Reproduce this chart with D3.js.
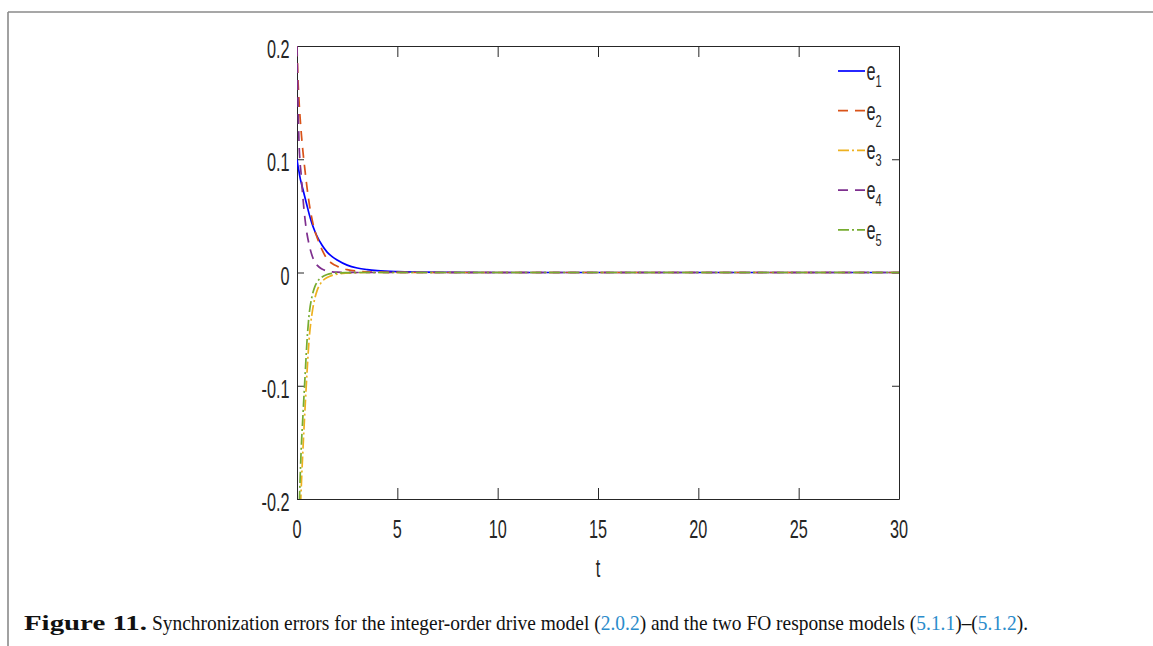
<!DOCTYPE html>
<html>
<head>
<meta charset="utf-8">
<script src="https://cdn.jsdelivr.net/npm/d3@7"></script>
<style>
  html, body { margin: 0; padding: 0; background: #ffffff; }
  svg { display: block; }
</style>
</head>
<body>
<svg id="fig" width="1153" height="646"></svg>
<script>
// Sampled time instants (dense near t = 0 where the errors change fastest)
const timePoints = [0, 0.05, 0.1, 0.15, 0.2, 0.3, 0.4, 0.5, 0.6, 0.75, 0.9, 1.0, 1.25, 1.5, 1.75, 2, 2.5, 3, 3.5, 4, 5, 6, 8, 10, 15, 20, 25, 30];

// Synchronization errors e1..e5 at the time instants above
const e1 = [0.100, 0.094, 0.089, 0.084, 0.080, 0.073, 0.066, 0.059, 0.052, 0.043, 0.036, 0.032, 0.024, 0.018, 0.014, 0.011, 0.0065, 0.004, 0.0026, 0.0017, 0.0008, 0.0004, 0.0001, 0, 0, 0, 0, 0];
const e2 = [0.200, 0.170, 0.152, 0.138, 0.126, 0.106, 0.090, 0.075, 0.062, 0.047, 0.036, 0.031, 0.020, 0.012, 0.008, 0.0055, 0.0025, 0.0012, 0.0006, 0.0003, 0.0001, 0, 0, 0, 0, 0, 0, 0];
const e3 = [-0.340, -0.290, -0.250, -0.220, -0.195, -0.155, -0.120, -0.088, -0.060, -0.036, -0.022, -0.016, -0.008, -0.0045, -0.0025, -0.0014, -0.0005, -0.0002, 0, 0, 0, 0, 0, 0, 0, 0, 0, 0];
const e4 = [0.200, 0.150, 0.115, 0.098, 0.088, 0.065, 0.047, 0.034, 0.025, 0.015, 0.009, 0.0065, 0.003, 0.0013, 0.0006, 0.0003, 0.0001, 0, 0, 0, 0, 0, 0, 0, 0, 0, 0, 0];
const e5 = [-0.320, -0.260, -0.215, -0.185, -0.160, -0.125, -0.092, -0.060, -0.038, -0.021, -0.012, -0.0085, -0.004, -0.0018, -0.0008, -0.0004, -0.0001, 0, 0, 0, 0, 0, 0, 0, 0, 0, 0, 0];

const seriesLabels = ["1", "2", "3", "4", "5"];

// Axis ticks
const xTicks = [0, 5, 10, 15, 20, 25, 30];
const xTickLabels = ["0", "5", "10", "15", "20", "25", "30"];
const yTicks = [-0.2, -0.1, 0, 0.1, 0.2];
const yTickLabels = ["-0.2", "-0.1", "0", "0.1", "0.2"];
const xAxisTitle = "t";

// Caption pieces: [text, isReference]
const captionTitle = "Figure 11.";
const captionParts = [
  ["Synchronization errors for the integer-order drive model (", false],
  ["2.0.2", true],
  [") and the two FO response models (", false],
  ["5.1.1", true],
  [")–(", false],
  ["5.1.2", true],
  [").", false]
];

// Line styles, one per series
const styles = [
  { color: "#0000ff", dash: null },
  { color: "#d95319", dash: "10,7" },
  { color: "#edb120", dash: "11,3,2,3" },
  { color: "#7e2f8e", dash: "10,7" },
  { color: "#77ac30", dash: "11,3,2,3" }
];

const svg = d3.select("#fig");
const W = 1153, H = 646;

// Page frame (gray rule at top and left)
svg.append("line").attr("x1", 8).attr("y1", 12).attr("x2", W).attr("y2", 12)
  .attr("stroke", "#8a8a8a").attr("stroke-width", 1.6);
svg.append("line").attr("x1", 8).attr("y1", 12).attr("x2", 8).attr("y2", H)
  .attr("stroke", "#8a8a8a").attr("stroke-width", 1.6);

// Plot box
const boxLeft = 297, boxRight = 899, boxTop = 46, boxBottom = 499;
const x = d3.scaleLinear().domain([0, 30]).range([boxLeft, boxRight]);
const y = d3.scaleLinear().domain([-0.2, 0.2]).range([boxBottom, boxTop]);

const axisColor = "#262626";
const sx = 0.65;            // horizontal condensing of the axis fonts
const axisFont = "'Liberation Sans', Arial, Helvetica, sans-serif";

function styleAxis(g) {
  g.selectAll("path.domain").attr("stroke", axisColor).attr("stroke-width", 1);
  g.selectAll(".tick line").attr("stroke", axisColor).attr("stroke-width", 1);
  g.selectAll(".tick text").remove();
}

svg.append("g").attr("transform", `translate(0,${boxBottom})`)
  .call(d3.axisBottom(x).tickValues(xTicks).tickSizeInner(-11).tickSizeOuter(0).tickFormat(() => ""))
  .call(styleAxis);
svg.append("g").attr("transform", `translate(0,${boxTop})`)
  .call(d3.axisTop(x).tickValues(xTicks).tickSizeInner(-11).tickSizeOuter(0).tickFormat(() => ""))
  .call(styleAxis);
svg.append("g").attr("transform", `translate(${boxLeft},0)`)
  .call(d3.axisLeft(y).tickValues(yTicks).tickSizeInner(-7).tickSizeOuter(0).tickFormat(() => ""))
  .call(styleAxis);
svg.append("g").attr("transform", `translate(${boxRight},0)`)
  .call(d3.axisRight(y).tickValues(yTicks).tickSizeInner(-7).tickSizeOuter(0).tickFormat(() => ""))
  .call(styleAxis);

// Tick labels (condensed)
svg.append("g").selectAll("text").data(xTicks).join("text")
  .attr("transform", (d) => `translate(${x(d)},538) scale(${sx},1)`)
  .attr("text-anchor", "middle")
  .attr("font-family", axisFont).attr("font-size", 25).attr("fill", axisColor)
  .text((d, i) => xTickLabels[i]);

svg.append("g").selectAll("text").data(yTicks).join("text")
  .attr("transform", (d) => `translate(289.5,${y(d) + 12}) scale(${sx},1)`)
  .attr("text-anchor", "end")
  .attr("font-family", axisFont).attr("font-size", 25).attr("fill", axisColor)
  .text((d, i) => yTickLabels[i]);

svg.append("text")
  .attr("transform", `translate(${(boxLeft + boxRight) / 2},577) scale(${sx},1)`)
  .attr("text-anchor", "middle")
  .attr("font-family", axisFont).attr("font-size", 25).attr("fill", axisColor)
  .text(xAxisTitle);

// Curves
svg.append("defs").append("clipPath").attr("id", "plotClip")
  .append("rect").attr("x", boxLeft).attr("y", boxTop)
  .attr("width", boxRight - boxLeft).attr("height", boxBottom - boxTop);

const series = [e1, e2, e3, e4, e5];
const line = d3.line()
  .x((d) => x(d[0]))
  .y((d) => y(d[1]))
  .curve(d3.curveMonotoneX);

const plot = svg.append("g").attr("clip-path", "url(#plotClip)");
series.forEach((vals, i) => {
  const pts = timePoints.map((t, k) => [t, vals[k]]);
  plot.append("path")
    .datum(pts)
    .attr("d", line)
    .attr("fill", "none")
    .attr("stroke", styles[i].color)
    .attr("stroke-width", 1.7)
    .attr("stroke-dasharray", styles[i].dash);
});

// Legend
const legend = svg.append("g");
series.forEach((vals, i) => {
  const ly = 71 + i * 39.7;
  legend.append("line")
    .attr("x1", 838).attr("x2", 865).attr("y1", ly).attr("y2", ly)
    .attr("stroke", styles[i].color).attr("stroke-width", 1.7)
    .attr("stroke-dasharray", styles[i].dash);
  const t = legend.append("text")
    .attr("transform", `translate(866.5,${ly + 9}) scale(${sx},1)`)
    .attr("font-family", axisFont).attr("font-size", 25).attr("fill", axisColor);
  t.append("tspan").text("e");
  t.append("tspan").attr("font-size", 17).attr("dy", 7).text(seriesLabels[i]);
});

// Caption: each piece is its own text element, scaled horizontally to fit the line
const link = "#2b8ccb";
const captionFont = "'Liberation Serif', 'Times New Roman', serif";
const capY = 630;
const capG = svg.append("g");

const titleText = capG.append("text")
  .attr("font-family", captionFont).attr("font-size", 20.5).attr("font-weight", "bold")
  .attr("fill", "#111").text(captionTitle);
const titleW = titleText.node().getComputedTextLength();
titleText.attr("transform", `translate(24,${capY}) scale(${123 / titleW},1)`);

const pieces = captionParts.map(([txt, isRef]) => {
  const el = capG.append("text")
    .attr("font-family", captionFont).attr("font-size", 20)
    .attr("fill", isRef ? link : "#111").text(txt);
  return { el, w: el.node().getComputedTextLength() };
});
const totalW = d3.sum(pieces, (p) => p.w);
const k = 876 / totalW;
let cx = 152;
pieces.forEach((p) => {
  p.el.attr("transform", `translate(${cx},${capY}) scale(${k},1)`);
  cx += p.w * k;
});
</script>
</body>
</html>
